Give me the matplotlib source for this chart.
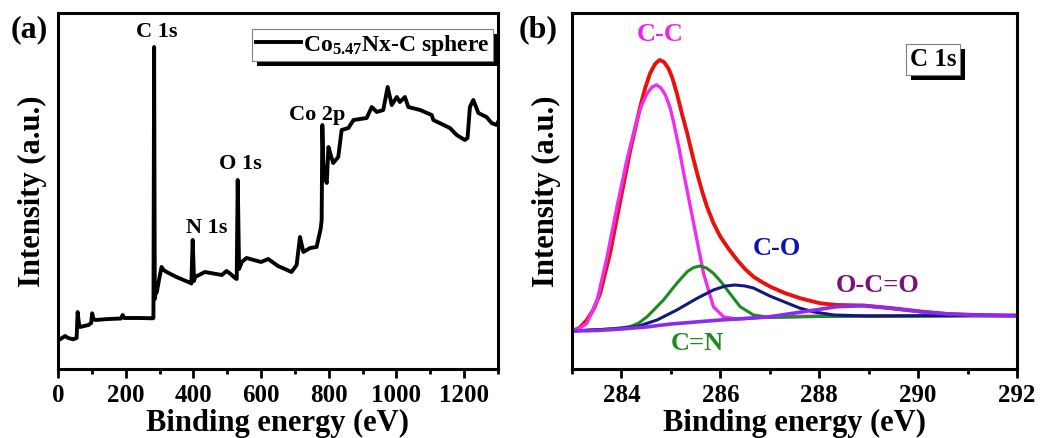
"""XPS survey spectrum (a) and C 1s high-resolution fit (b)."""
import matplotlib

matplotlib.use("Agg")
import matplotlib.pyplot as plt  # noqa: E402
import matplotlib.patheffects as pe  # noqa: E402

plt.rcParams["font.family"] = "Liberation Serif"
plt.rcParams["font.weight"] = "bold"
plt.rcParams["axes.labelweight"] = "bold"
plt.rcParams["mathtext.fontset"] = "custom"
plt.rcParams["mathtext.rm"] = "Liberation Serif:bold"
plt.rcParams["mathtext.bf"] = "Liberation Serif:bold"
plt.rcParams["mathtext.it"] = "Liberation Serif:bold:italic"

# --- (a) survey spectrum ---
survey_energy = [0, 6, 21, 30, 45, 55, 58, 62, 65, 90, 98, 101, 105, 110, 150, 186, 191, 196,
                 240, 280, 282, 284, 286, 288, 292, 300, 306, 312, 321, 350, 385, 394, 398,
                 402, 405, 434, 484, 498, 510, 523, 528, 531, 535, 543, 557, 600, 621, 650,
                 690, 705, 715, 725, 745, 764, 776, 779, 781, 784, 790, 794, 799, 804, 813,
                 828, 838, 858, 873, 912, 927, 942, 961, 974, 986, 1001, 1010, 1025, 1035,
                 1070, 1104, 1109, 1158, 1178, 1202, 1210, 1217, 1227, 1242, 1266, 1281,
                 1296, 1300]
survey_counts = [29, 29.7, 33, 31, 29.7, 31, 57, 45, 42, 44, 46, 55.7, 50, 49, 50, 50.5, 54, 51,
                 51, 50.7, 51, 322, 70, 75, 77, 92, 102, 99, 97, 92, 87, 85.5, 129,
                 88, 92, 97, 94, 98, 95, 91, 90, 189, 100, 107, 111, 107, 110, 103,
                 97, 104, 132, 117, 121, 122, 140, 149, 244, 206, 190, 186, 222, 216, 206,
                 212, 239, 241, 249, 251, 262, 257, 259, 282, 264, 272, 267, 272, 262,
                 259, 254, 249, 241, 234, 229, 231, 262, 269, 256, 252, 246,
                 244, 247]
survey_peaks = ["C 1s", "N 1s", "O 1s", "Co 2p"]
survey_peak_x = [292, 439, 540, 766]
survey_peak_y = [337, 141, 205, 254]

# --- (b) C 1s fit components ---
env_e = [283.0, 283.15, 283.3, 283.44, 283.57, 283.77, 283.98, 284.18, 284.38, 284.48, 284.58,
         284.68, 284.77, 284.86, 284.95, 285.03, 285.12, 285.22, 285.33, 285.43, 285.53, 285.63,
         285.73, 285.86, 286.0, 286.17, 286.34, 286.5, 286.67, 286.84, 287.01, 287.3, 287.62,
         288.02, 288.36, 288.9, 289.44, 290.05, 290.6, 291.2, 292.0]
env_i = [38, 41, 49, 60, 75.7, 115.7, 169, 219, 262.3, 281, 295.7,
         305, 309, 307, 300.7, 291, 275.7, 256, 235.7, 215, 195.7, 178,
         162.3, 146, 132.3, 120, 109, 100, 92.3, 87, 82.3, 76, 70.7,
         65.7, 64, 63.5, 61, 57.5, 55, 54, 53.5]

cc_e = [283.0, 283.15, 283.3, 283.51, 283.71, 283.91, 284.11, 284.31, 284.41, 284.52, 284.62,
        284.71, 284.8, 284.89, 284.98, 285.06, 285.16, 285.26, 285.46, 285.66, 285.86, 286.07,
        286.34, 287.0, 288.0, 292.0]
cc_i = [38, 40.5, 45.7, 69, 112.3, 162.3, 209, 249, 264, 275.7, 282,
        284, 281, 274, 262, 245.7, 222, 195.7, 145.7, 95.7, 62.3, 52,
        50, 52, 53, 53.5]

cn_e = [283.0, 283.6, 284.0, 284.18, 284.35, 284.52, 284.85, 285.12, 285.33, 285.46, 285.59,
        285.72, 285.86, 286.0, 286.14, 286.4, 286.67, 287.01, 288.0, 292.0]
cn_i = [38, 39.5, 41, 42.5, 46, 52.3, 69, 85.7, 97.3, 101.5, 103,
        101, 95.7, 88, 79, 62.3, 54, 51.5, 52.5, 53.5]

co_e = [283.0, 283.8, 284.31, 284.72, 285.12, 285.53, 285.86, 286.1, 286.3, 286.5, 286.67,
        287.0, 287.3, 287.6, 287.9, 288.3, 289.0, 292.0]
co_i = [38, 40, 42.3, 49, 59, 70.7, 79, 83, 84, 83, 81,
        73, 67, 61, 57, 54, 53, 53.5]

oco_e = [283.0, 283.5, 284.0, 284.5, 285.0, 285.5, 286.0, 286.5, 287.0, 287.68, 288.36, 288.9,
         289.44, 290.05, 290.59, 291.2, 292.0]
oco_i = [38, 38.5, 40, 42, 45, 47, 49, 50.5, 52.3, 57.3, 62.3, 63.3,
         60.7, 57.3, 55, 53.7, 53]

comp_names = ["C-C", "C=N", "C-O", "O-C=O"]
comp_label_x = [284.79, 285.54, 287.15, 289.19]
comp_label_y = [335, 25, 120.5, 84]
comp_label_colors = ["#ee22ee", "#1f8a1f", "#0a14b4", "#7a127a"]

W, H = 1041, 438
fig = plt.figure(figsize=(W / 100, H / 100), dpi=100)
ax_a = fig.add_axes([58 / W, 1 - 369 / H, 440 / W, 356 / H])
ax_b = fig.add_axes([572 / W, 1 - 369 / H, 445 / W, 356 / H])


def style_axes(ax):
    for s in ax.spines.values():
        s.set_linewidth(2.2)
    ax.set_yticks([])
    ax.tick_params(axis="x", which="major", direction="out", length=6.5, width=2,
                   labelsize=18, pad=4)
    ax.tick_params(axis="x", which="minor", direction="out", length=3.5, width=2)
    ax.set_xlabel("Binding energy (eV)", fontsize=22, labelpad=2)
    ax.set_ylabel("Intensity (a.u.)", fontsize=22, labelpad=8)
    ax.set_ylim(0, 356)


# --- (a) ---
ax_a.plot(survey_energy, survey_counts, color="black", lw=2.8,
          label="Co$_{5.47}$Nx-C sphere")
ax_a.set_xlim(0, 1300)
ax_a.set_xticks(range(0, 1201, 200))
ax_a.set_xticks(range(100, 1301, 200), minor=True)
style_axes(ax_a)
for name, x, y in zip(survey_peaks, survey_peak_x, survey_peak_y):
    ax_a.text(x, y, name, fontsize=16, ha="center", va="center")
leg = ax_a.legend(loc="upper right", bbox_to_anchor=(0.989, 0.955), borderaxespad=0,
                  fontsize=17, handlelength=1.9, handletextpad=0.1, borderpad=0.15,
                  fancybox=False, framealpha=1, edgecolor="grey")
leg.get_frame().set_linewidth(0.8)
leg.get_frame().set_path_effects([
    pe.SimplePatchShadow(offset=(3.5, -3.5), shadow_rgbFace="black", alpha=1),
    pe.Normal()])
fig.text(29 / W, 1 - 30 / H, "(a)", fontsize=23, ha="center", va="center")

# --- (b) ---
ax_b.plot(env_e, env_i, color="#e8120c", lw=2.8)
ax_b.plot(cc_e, cc_i, color="#f02cf0", lw=2.4)
ax_b.plot(cn_e, cn_i, color="#1f8a1f", lw=2.2)
ax_b.plot(co_e, co_i, color="#101a7e", lw=2.2)
ax_b.plot(oco_e, oco_i, color="#8a2cf0", lw=2.6)
ax_b.set_xlim(283, 292)
ax_b.set_xticks(range(284, 293, 2))
ax_b.set_xticks(range(283, 292, 2), minor=True)
style_axes(ax_b)
for name, x, y, c in zip(comp_names, comp_label_x, comp_label_y, comp_label_colors):
    ax_b.text(x, y, name, fontsize=19, color=c, ha="center", va="center")
tb = ax_b.text(290.31, 309.5, "C 1s", fontsize=18, ha="center", va="center",
               bbox=dict(boxstyle="square,pad=0.15", fc="white", ec="grey", lw=0.8))
tb.get_bbox_patch().set_path_effects([
    pe.SimplePatchShadow(offset=(3.5, -3.5), shadow_rgbFace="black", alpha=1),
    pe.Normal()])
fig.text(538 / W, 1 - 30 / H, "(b)", fontsize=23, ha="center", va="center")

fig.savefig("out.png", dpi=100)
